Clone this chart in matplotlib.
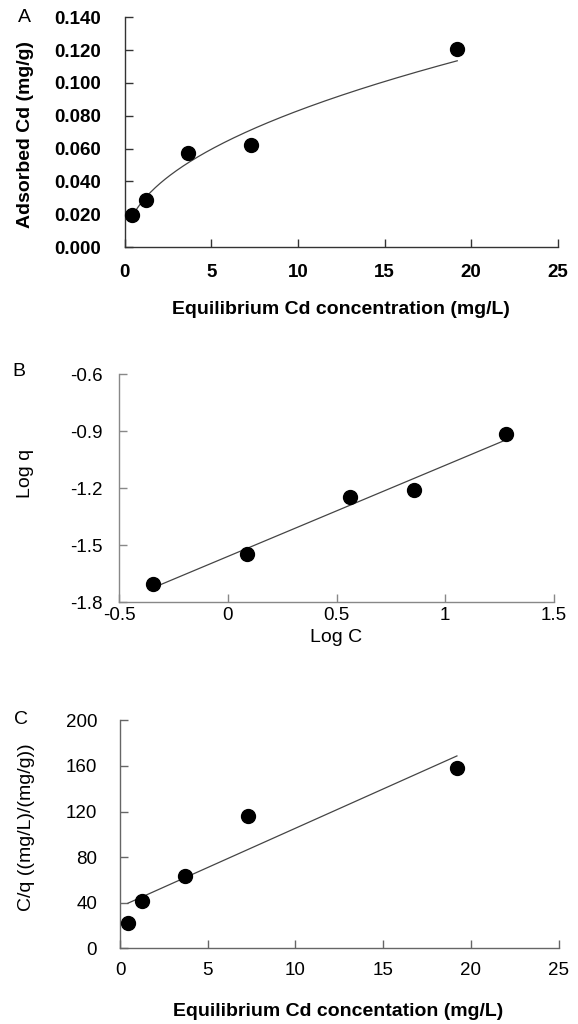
import numpy as np
import matplotlib
matplotlib.use("Agg")
import matplotlib.pyplot as plt

plt.rcParams['font.family'] = ['Liberation Sans', 'DejaVu Sans']

# Panel A: adsorption isotherm
ce_a = [0.45, 1.23, 3.68, 7.27, 19.2]
q_a = [0.0195, 0.0285, 0.0571, 0.0622, 0.1205]
# Panel B: Freundlich linear plot
logc_b = [-0.344, 0.089, 0.561, 0.858, 1.281]
logq_b = [-1.705, -1.547, -1.246, -1.207, -0.916]
# Panel C: Langmuir linear plot
ce_c = [0.46, 1.24, 3.68, 7.27, 19.2]
cq_c = [22.5, 41.8, 63.7, 115.8, 158.0]

W, H = 578, 1024
fig = plt.figure(figsize=(W / 100, H / 100), dpi=100)

def axes_px(left, right, top, bottom):
    return fig.add_axes([left / W, 1 - bottom / H, (right - left) / W, (bottom - top) / H])

line_col = '#444444'
fs_tick = 13.5
fs_lab = 14

def style(ax, xpad, ypad, spine_col, weight):
    for s in ['top', 'right']:
        ax.spines[s].set_visible(False)
    for s in ['left', 'bottom']:
        ax.spines[s].set_color(spine_col)
        ax.spines[s].set_linewidth(1.0)
    ax.tick_params(axis='x', direction='in', length=6, width=1.0, color=spine_col,
                   labelsize=fs_tick, pad=xpad)
    ax.tick_params(axis='y', direction='in', length=6, width=1.0, color=spine_col,
                   labelsize=fs_tick, pad=ypad)
    for lab in ax.get_xticklabels() + ax.get_yticklabels():
        lab.set_fontweight(weight)
    ax.patch.set_visible(False)

def place_labels(ax, xl, yl, xl_px, yl_px, l, r, t, b, xw, yw):
    ax.set_xlabel(xl, fontsize=fs_lab, fontweight=xw)
    ax.set_ylabel(yl, fontsize=fs_lab, fontweight=yw)
    ax.xaxis.label.set_va('center')
    ax.yaxis.label.set_va('center')
    ax.xaxis.set_label_coords((xl_px[0] - l) / (r - l), (b - xl_px[1]) / (b - t))
    ax.yaxis.set_label_coords((yl_px[0] - l) / (r - l), (b - yl_px[1]) / (b - t))

# ---------- Panel A ----------
l, r, t, b = 124.7, 557.7, 17.3, 247.0
axA = axes_px(l, r, t, b)
axA.set_xlim(0, 25)
axA.set_ylim(0, 0.14)
axA.set_xticks([0, 5, 10, 15, 20, 25])
axA.set_yticks(np.arange(0, 0.141, 0.02))
axA.set_yticklabels([f"{v:.3f}" for v in np.arange(0, 0.141, 0.02)])
style(axA, 12, 17, '#333333', 'bold')
# Freundlich fit from log-log regression
kf_slope, kf_int = np.polyfit(np.log10(ce_a), np.log10(q_a), 1)
cc = np.linspace(min(ce_a), max(ce_a), 200)
axA.plot(cc, 10 ** kf_int * cc ** kf_slope, color=line_col, lw=0.9, zorder=2)
axA.plot(ce_a, q_a, 'o', color='black', ms=10, zorder=3, clip_on=False)
place_labels(axA, 'Equilibrium Cd concentration (mg/L)', 'Adsorbed Cd (mg/g)',
             (341, 309), (26, 134), l, r, t, b, 'bold', 'bold')
fig.text(24 / W, 1 - 17 / H, 'A', fontsize=fs_lab, ha='center', va='center')

# ---------- Panel B ----------
l, r, t, b = 119.0, 554.0, 374.3, 602.3
axB = axes_px(l, r, t, b)
axB.set_xlim(-0.5, 1.5)
axB.set_ylim(-1.8, -0.6)
axB.set_xticks([-0.5, 0, 0.5, 1, 1.5])
axB.set_xticklabels(['-0.5', '0', '0.5', '1', '1.5'])
axB.set_yticks([-1.8, -1.5, -1.2, -0.9, -0.6])
axB.set_yticklabels(['-1.8', '-1.5', '-1.2', '-0.9', '-0.6'])
style(axB, 3.5, 12, '#888888', 'normal')
sb, ib = np.polyfit(logc_b, logq_b, 1)
xb = np.array([min(logc_b), max(logc_b)])
axB.plot(xb, sb * xb + ib, color=line_col, lw=0.9, zorder=2)
axB.plot(logc_b, logq_b, 'o', color='black', ms=10, zorder=3, clip_on=False)
place_labels(axB, 'Log C', 'Log q', (336, 638), (26, 473), l, r, t, b, 'normal', 'normal')
fig.text(19 / W, 1 - 371 / H, 'B', fontsize=fs_lab, ha='center', va='center')

# ---------- Panel C ----------
l, r, t, b = 120.0, 558.7, 720.4, 948.3
axC = axes_px(l, r, t, b)
axC.set_xlim(0, 25)
axC.set_ylim(0, 200)
axC.set_xticks([0, 5, 10, 15, 20, 25])
axC.set_yticks([0, 40, 80, 120, 160, 200])
style(axC, 10, 16.5, '#666666', 'normal')
sc, ic = np.polyfit(ce_c, cq_c, 1)
xc = np.array([min(ce_c), max(ce_c)])
axC.plot(xc, sc * xc + ic, color=line_col, lw=0.9, zorder=2)
axC.plot(ce_c, cq_c, 'o', color='black', ms=10, zorder=3, clip_on=False)
place_labels(axC, 'Equilibrium Cd concentation (mg/L)', 'C/q ((mg/L)/(mg/g))',
             (338, 1011), (27, 827), l, r, t, b, 'bold', 'normal')
fig.text(21 / W, 1 - 719 / H, 'C', fontsize=fs_lab, ha='center', va='center')

fig.savefig('out.png', dpi=100)
